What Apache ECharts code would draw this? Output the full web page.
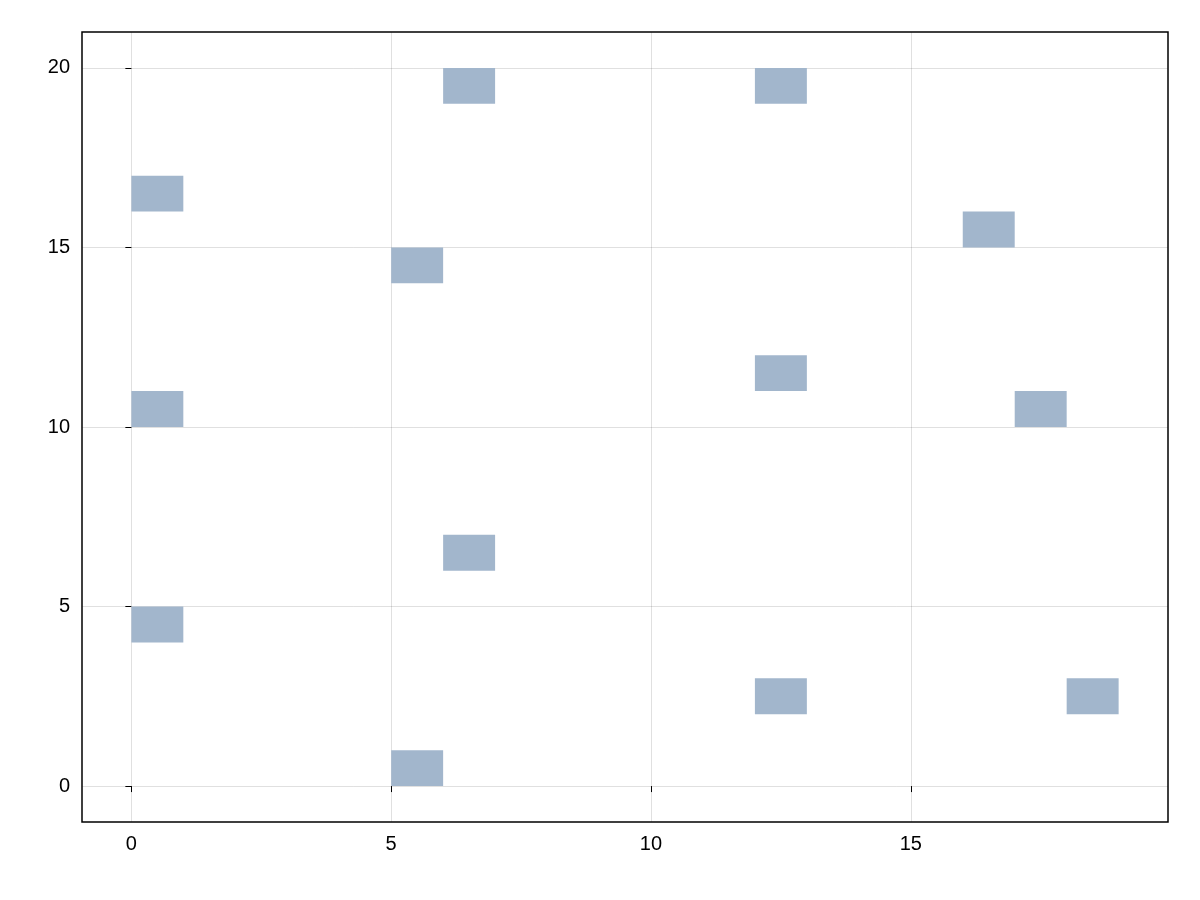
<!DOCTYPE html>
<html><head><meta charset="utf-8">
<script src="https://cdn.jsdelivr.net/npm/echarts@6/dist/echarts.min.js"></script>
<style>html,body{margin:0;padding:0;background:#fff}#c{width:1200px;height:900px}</style>
</head><body><div id="c"></div>
<script>
const xStart = [0,0,0,5,5,6,6,12,12,12,16,17,18];
const yStart = [16,10,4,14,0,19,6,19,11,2,15,10,2];
const rectW = 1, rectH = 1;
const xTicks = [0,5,10,15];
const yTicks = [0,5,10,15,20];
const data = xStart.map((x,i)=>[x, yStart[i], x+rectW, yStart[i]+rectH]);
const chart = echarts.init(document.getElementById('c'));
const axisCommon = {
  axisLine:{show:false}, axisTick:{show:true,length:6,inside:false,lineStyle:{color:'#000'}},
  axisLabel:{color:'#000',fontSize:20,fontFamily:'Liberation Sans, Arial, sans-serif'},
  splitLine:{show:true,lineStyle:{color:'rgba(0,0,0,0.12)',width:1}}
};
chart.setOption({
  animation:false,
  grid:{left:82,right:32,top:32,bottom:78,show:true,borderColor:'#000',borderWidth:1.5,backgroundColor:'transparent'},
  xAxis:Object.assign({type:'value',min:-0.95,max:19.95,
    axisLabel:Object.assign({},axisCommon.axisLabel,{margin:12,customValues:xTicks}),
    axisTick:Object.assign({},axisCommon.axisTick,{customValues:xTicks}),
    splitLine:axisCommon.splitLine,axisLine:{show:false}}),
  yAxis:Object.assign({type:'value',min:-1,max:21,
    axisLabel:Object.assign({},axisCommon.axisLabel,{margin:12,customValues:yTicks}),
    axisTick:Object.assign({},axisCommon.axisTick,{customValues:yTicks}),
    splitLine:axisCommon.splitLine,axisLine:{show:false}}),
  series:[{type:'custom',data:data,
    renderItem:function(params,api){
      const p0=api.coord([api.value(0),api.value(1)]);
      const p1=api.coord([api.value(2),api.value(3)]);
      return {type:'rect',shape:{x:p0[0],y:p1[1],width:p1[0]-p0[0],height:p0[1]-p1[1]},
        style:{fill:'#a2b6cc'}};
    },
    encode:{x:[0,2],y:[1,3]}
  }]
});
</script></body></html>
